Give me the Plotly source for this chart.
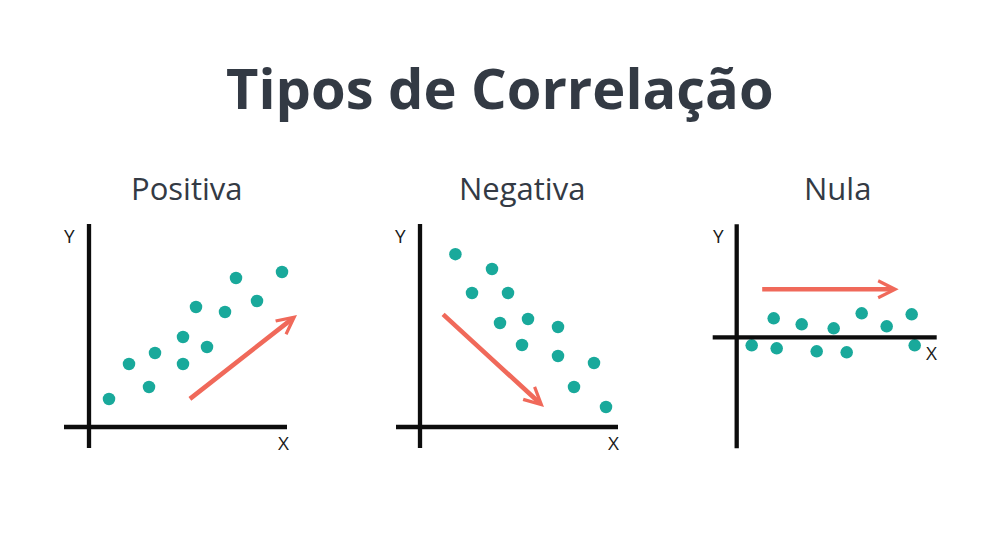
import plotly.graph_objects as go

W, H = 1000, 558
PX = 20  # pixels per data unit

TEAL = "#19a99b"
CORAL = "#f0695a"
DARK = "#333a44"

# ---------------- data ----------------
panel_titles = ["Positiva", "Negativa", "Nula"]

pos_x = [1.0, 2.0, 3.0, 3.3, 4.7, 4.7, 5.9, 5.35, 6.8, 7.35, 8.4, 9.65]
pos_y = [1.4, 3.15, 2.0, 3.7, 4.5, 3.15, 4.0, 6.0, 5.75, 7.45, 6.3, 7.75]

neg_x = [1.77, 3.6, 2.6, 4.4, 4.0, 5.4, 6.9, 5.1, 6.9, 8.7, 7.7, 9.3]
neg_y = [8.64, 7.9, 6.7, 6.7, 5.2, 5.4, 5.0, 4.1, 3.55, 3.2, 2.0, 1.0]

nul_x = [0.75, 1.85, 2.0, 3.25, 4.0, 4.85, 5.5, 6.25, 7.5, 8.75, 8.9]
nul_y = [-0.4, 0.95, -0.55, 0.65, -0.7, 0.45, -0.75, 1.2, 0.55, 1.15, -0.4]

# trend arrows: (x_start, y_start, x_end, y_end)
pos_arrow = [4.97, 1.35, 10.4, 5.6]
neg_arrow = [1.08, 5.7, 6.2, 1.0]
nul_arrow = [1.2, 2.4, 8.1, 2.4]

# axis line extents: (xmin, xmax, ymin, ymax)
pos_axes = [-1.25, 9.9, -1.05, 10.15]
neg_axes = [-1.2, 9.9, -1.05, 10.15]
nul_axes = [-1.2, 10.0, -5.55, 5.65]

# axis label positions (Y label, X label)
pos_lbl = [(-1.0, 9.55), (9.7, -0.8)]
neg_lbl = [(-1.0, 9.55), (9.65, -0.8)]
nul_lbl = [(-0.9, 5.07), (9.75, -0.8)]

# ---------------- layout geometry ----------------
origins = [(89, 427), (420, 427), (736.7, 337.3)]  # pixel origin of each panel
boxes = [(30, 330), (355, 660), (680, 985)]          # pixel x extent of each panel
BOX_TOP, BOX_BOT = 200, 470
title_cx = [186, 522, 837]

panels = [
    (pos_x, pos_y, pos_arrow, pos_axes, pos_lbl),
    (neg_x, neg_y, neg_arrow, neg_axes, neg_lbl),
    (nul_x, nul_y, nul_arrow, nul_axes, nul_lbl),
]

fig = go.Figure()
annotations = []
shapes = []
layout_axes = {}

for i, (xs, ys, arr, axl, lbl) in enumerate(panels):
    n = "" if i == 0 else str(i + 1)
    xa, ya = "x" + n, "y" + n
    ox, oy = origins[i]
    bx0, bx1 = boxes[i]
    layout_axes["xaxis" + n] = dict(
        domain=[bx0 / W, bx1 / W],
        range=[(bx0 - ox) / PX, (bx1 - ox) / PX],
        visible=False, fixedrange=True, anchor=ya,
    )
    layout_axes["yaxis" + n] = dict(
        domain=[1 - BOX_BOT / H, 1 - BOX_TOP / H],
        range=[(oy - BOX_BOT) / PX, (oy - BOX_TOP) / PX],
        visible=False, fixedrange=True, anchor=xa,
    )
    # axis lines
    shapes.append(dict(type="line", xref=xa, yref=ya, x0=axl[0], x1=axl[1], y0=0, y1=0,
                       line=dict(color="#0d0d0d", width=4.3)))
    shapes.append(dict(type="line", xref=xa, yref=ya, x0=0, x1=0, y0=axl[2], y1=axl[3],
                       line=dict(color="#0d0d0d", width=4.3)))
    # points
    fig.add_trace(go.Scatter(
        x=xs, y=ys, mode="markers", xaxis=xa, yaxis=ya, cliponaxis=False,
        marker=dict(size=12.5, color=TEAL, line=dict(width=0)),
        hoverinfo="skip", showlegend=False,
    ))
    # arrow
    annotations.append(dict(
        x=arr[2], y=arr[3], ax=arr[0], ay=arr[1], xref=xa, yref=ya, axref=xa, ayref=ya,
        text="", showarrow=True, arrowhead=5, arrowsize=0.72, arrowwidth=4.6,
        arrowcolor=CORAL, standoff=0,
    ))
    # axis labels
    annotations.append(dict(x=lbl[0][0], y=lbl[0][1], xref=xa, yref=ya, text="Y",
                            showarrow=False, font=dict(family="Open Sans", size=19, color="#1a1a1a")))
    annotations.append(dict(x=lbl[1][0], y=lbl[1][1], xref=xa, yref=ya, text="X",
                            showarrow=False, font=dict(family="Open Sans", size=19, color="#1a1a1a")))
    # panel title
    annotations.append(dict(x=title_cx[i] / W, y=1 - 188 / H, xref="paper", yref="paper",
                            text=panel_titles[i], showarrow=False, xanchor="center", yanchor="middle",
                            font=dict(family="Open Sans", size=31, color=DARK)))

annotations.append(dict(x=0.5, y=1 - 87 / H, xref="paper", yref="paper",
                        text="<b>Tipos de Correlação</b>", showarrow=False,
                        xanchor="center", yanchor="middle",
                        font=dict(family="Open Sans", size=56, color=DARK)))

fig.update_layout(
    width=W, height=H, margin=dict(l=0, r=0, t=0, b=0),
    paper_bgcolor="white", plot_bgcolor="rgba(0,0,0,0)",
    annotations=annotations, shapes=shapes, showlegend=False,
    **layout_axes,
)

fig.write_html("out.html", config={"displayModeBar": False})
